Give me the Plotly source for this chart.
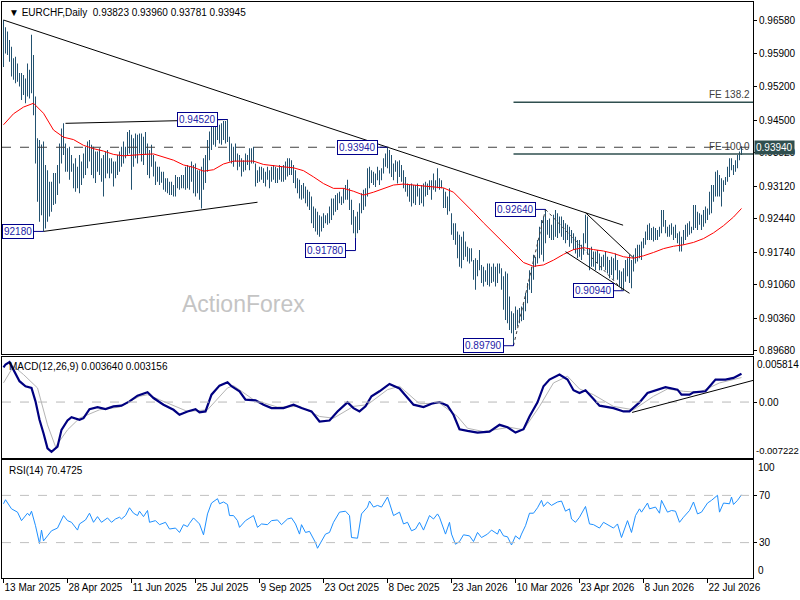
import plotly.graph_objects as go
from plotly.subplots import make_subplots

# ---- daily bars (high / low), one value per trading day ----
highs = [
    0.9660, 0.9645, 0.9636, 0.9618, 0.9604, 0.9580, 0.9583, 0.9569, 0.9549, 0.9549,
    0.9545, 0.9538, 0.9569, 0.9556, 0.9629, 0.9587, 0.9500, 0.9413, 0.9409, 0.9400,
    0.9406, 0.9357, 0.9346, 0.9322, 0.9322, 0.9340, 0.9340, 0.9357, 0.9402, 0.9433,
    0.9444, 0.9402, 0.9392, 0.9395, 0.9378, 0.9360, 0.9371, 0.9353, 0.9378, 0.9364,
    0.9381, 0.9395, 0.9406, 0.9409, 0.9399, 0.9395, 0.9385, 0.9385, 0.9392, 0.9371,
    0.9378, 0.9385, 0.9388, 0.9371, 0.9371, 0.9364, 0.9364, 0.9378, 0.9385, 0.9395,
    0.9406, 0.9395, 0.9426, 0.9430, 0.9420, 0.9413, 0.9423, 0.9420, 0.9423, 0.9423,
    0.9416, 0.9426, 0.9402, 0.9388, 0.9399, 0.9378, 0.9364, 0.9353, 0.9353, 0.9343,
    0.9343, 0.9329, 0.9329, 0.9322, 0.9322, 0.9315, 0.9336, 0.9332, 0.9332, 0.9336,
    0.9336, 0.9353, 0.9357, 0.9353, 0.9364, 0.9357, 0.9360, 0.9346, 0.9346, 0.9353,
    0.9371, 0.9378, 0.9409, 0.9427, 0.9441, 0.9448, 0.9446, 0.9448, 0.9441, 0.9444,
    0.9449, 0.9449, 0.9452, 0.9416, 0.9402, 0.9395, 0.9402, 0.9381, 0.9378, 0.9371,
    0.9367, 0.9381, 0.9378, 0.9392, 0.9392, 0.9395, 0.9360, 0.9346, 0.9353, 0.9353,
    0.9350, 0.9343, 0.9353, 0.9346, 0.9353, 0.9357, 0.9353, 0.9350, 0.9357, 0.9353,
    0.9357, 0.9364, 0.9371, 0.9371, 0.9367, 0.9357, 0.9346, 0.9329, 0.9326, 0.9315,
    0.9319, 0.9312, 0.9305, 0.9301, 0.9291, 0.9270, 0.9266, 0.9259, 0.9252, 0.9249,
    0.9256, 0.9252, 0.9256, 0.9270, 0.9287, 0.9287, 0.9294, 0.9298, 0.9301, 0.9291,
    0.9308, 0.9315, 0.9326, 0.9308, 0.9284, 0.9263, 0.9249, 0.9259, 0.9277, 0.9298,
    0.9305, 0.9308, 0.9350, 0.9353, 0.9346, 0.9343, 0.9339, 0.9353, 0.9346, 0.9350,
    0.9371, 0.9381, 0.9394, 0.9388, 0.9378, 0.9360, 0.9367, 0.9364, 0.9367, 0.9357,
    0.9346, 0.9332, 0.9318, 0.9315, 0.9318, 0.9315, 0.9315, 0.9318, 0.9308, 0.9315,
    0.9318, 0.9322, 0.9318, 0.9325, 0.9325, 0.9339, 0.9325, 0.9350, 0.9329, 0.9325,
    0.9308, 0.9301, 0.9291, 0.9308, 0.9256, 0.9235, 0.9235, 0.9218, 0.9211, 0.9207,
    0.9218, 0.9197, 0.9186, 0.9183, 0.9183, 0.9158, 0.9162, 0.9158, 0.9179, 0.9148,
    0.9144, 0.9137, 0.9151, 0.9151, 0.9144, 0.9151, 0.9144, 0.9151, 0.9151, 0.9141,
    0.9124, 0.9134, 0.9130, 0.9082, 0.9051, 0.9047, 0.9061, 0.9054, 0.9058, 0.9061,
    0.9068, 0.9089, 0.9110, 0.9137, 0.9144, 0.9169, 0.9165, 0.9200, 0.9228, 0.9242,
    0.9249, 0.9264, 0.9242, 0.9245, 0.9232, 0.9253, 0.9263, 0.9256, 0.9249, 0.9249,
    0.9242, 0.9235, 0.9232, 0.9228, 0.9221, 0.9214, 0.9207, 0.9200, 0.9200, 0.9190,
    0.9214, 0.9253, 0.9249, 0.9183, 0.9186, 0.9176, 0.9176, 0.9179, 0.9172, 0.9165,
    0.9169, 0.9176, 0.9165, 0.9158, 0.9165, 0.9162, 0.9172, 0.9158, 0.9137, 0.9134,
    0.9141, 0.9158, 0.9162, 0.9169, 0.9158, 0.9169, 0.9183, 0.9190, 0.9190, 0.9197,
    0.9204, 0.9218, 0.9232, 0.9235, 0.9225, 0.9228, 0.9225, 0.9221, 0.9228, 0.9263,
    0.9263, 0.9242, 0.9228, 0.9232, 0.9235, 0.9228, 0.9232, 0.9214, 0.9218, 0.9207,
    0.9221, 0.9232, 0.9235, 0.9239, 0.9228, 0.9273, 0.9273, 0.9259, 0.9256, 0.9253,
    0.9263, 0.9270, 0.9266, 0.9301, 0.9315, 0.9315, 0.9343, 0.9346, 0.9336, 0.9329,
    0.9325, 0.9332, 0.9353, 0.9371, 0.9371, 0.9357, 0.9367, 0.9378, 0.9385, 0.9396,
]
lows = [
    0.9562, 0.9590, 0.9587, 0.9573, 0.9542, 0.9535, 0.9528, 0.9531, 0.9521, 0.9493,
    0.9503, 0.9486, 0.9500, 0.9496, 0.9507, 0.9461, 0.9360, 0.9280, 0.9238, 0.9252,
    0.9218, 0.9224, 0.9238, 0.9249, 0.9259, 0.9273, 0.9276, 0.9294, 0.9318, 0.9360,
    0.9378, 0.9343, 0.9343, 0.9326, 0.9343, 0.9308, 0.9301, 0.9308, 0.9298, 0.9315,
    0.9329, 0.9336, 0.9350, 0.9364, 0.9336, 0.9329, 0.9319, 0.9343, 0.9336, 0.9322,
    0.9291, 0.9329, 0.9339, 0.9329, 0.9339, 0.9312, 0.9329, 0.9336, 0.9343, 0.9353,
    0.9360, 0.9371, 0.9378, 0.9381, 0.9305, 0.9353, 0.9371, 0.9360, 0.9381, 0.9364,
    0.9357, 0.9378, 0.9336, 0.9329, 0.9353, 0.9333, 0.9315, 0.9322, 0.9315, 0.9320,
    0.9305, 0.9301, 0.9298, 0.9294, 0.9294, 0.9291, 0.9291, 0.9308, 0.9305, 0.9308,
    0.9308, 0.9305, 0.9308, 0.9305, 0.9322, 0.9298, 0.9291, 0.9298, 0.9284, 0.9266,
    0.9305, 0.9319, 0.9343, 0.9367, 0.9388, 0.9399, 0.9395, 0.9409, 0.9402, 0.9399,
    0.9409, 0.9402, 0.9405, 0.9364, 0.9360, 0.9353, 0.9364, 0.9346, 0.9353, 0.9333,
    0.9343, 0.9346, 0.9357, 0.9346, 0.9360, 0.9360, 0.9312, 0.9319, 0.9322, 0.9326,
    0.9319, 0.9312, 0.9326, 0.9308, 0.9322, 0.9326, 0.9319, 0.9319, 0.9326, 0.9322,
    0.9322, 0.9326, 0.9333, 0.9336, 0.9336, 0.9319, 0.9308, 0.9298, 0.9287, 0.9284,
    0.9287, 0.9277, 0.9270, 0.9263, 0.9235, 0.9225, 0.9218, 0.9211, 0.9207, 0.9218,
    0.9225, 0.9235, 0.9232, 0.9235, 0.9242, 0.9252, 0.9259, 0.9263, 0.9277, 0.9273,
    0.9277, 0.9284, 0.9284, 0.9263, 0.9232, 0.9214, 0.9205, 0.9214, 0.9221, 0.9256,
    0.9263, 0.9270, 0.9291, 0.9308, 0.9319, 0.9315, 0.9311, 0.9325, 0.9315, 0.9325,
    0.9339, 0.9353, 0.9350, 0.9339, 0.9332, 0.9325, 0.9343, 0.9318, 0.9332, 0.9322,
    0.9308, 0.9301, 0.9291, 0.9280, 0.9270, 0.9277, 0.9273, 0.9291, 0.9273, 0.9277,
    0.9270, 0.9291, 0.9294, 0.9305, 0.9284, 0.9305, 0.9301, 0.9308, 0.9305, 0.9308,
    0.9267, 0.9267, 0.9253, 0.9260, 0.9211, 0.9200, 0.9190, 0.9162, 0.9144, 0.9141,
    0.9158, 0.9165, 0.9155, 0.9151, 0.9155, 0.9117, 0.9096, 0.9124, 0.9137, 0.9110,
    0.9103, 0.9113, 0.9106, 0.9103, 0.9110, 0.9113, 0.9103, 0.9110, 0.9130, 0.9096,
    0.9054, 0.9033, 0.9026, 0.9012, 0.9005, 0.8984, 0.9012, 0.9019, 0.9026, 0.9030,
    0.9033, 0.9051, 0.9068, 0.9096, 0.9089, 0.9117, 0.9144, 0.9151, 0.9162, 0.9169,
    0.9155, 0.9193, 0.9211, 0.9204, 0.9200, 0.9200, 0.9207, 0.9204, 0.9214, 0.9207,
    0.9200, 0.9193, 0.9200, 0.9186, 0.9193, 0.9179, 0.9172, 0.9162, 0.9165, 0.9158,
    0.9169, 0.9193, 0.9169, 0.9137, 0.9144, 0.9144, 0.9137, 0.9151, 0.9137, 0.9137,
    0.9144, 0.9137, 0.9130, 0.9120, 0.9127, 0.9117, 0.9137, 0.9117, 0.9103, 0.9096,
    0.9094, 0.9113, 0.9124, 0.9110, 0.9099, 0.9134, 0.9151, 0.9155, 0.9162, 0.9158,
    0.9183, 0.9190, 0.9200, 0.9200, 0.9200, 0.9197, 0.9200, 0.9200, 0.9207, 0.9214,
    0.9228, 0.9214, 0.9207, 0.9207, 0.9211, 0.9200, 0.9204, 0.9193, 0.9176, 0.9176,
    0.9190, 0.9200, 0.9207, 0.9211, 0.9214, 0.9221, 0.9225, 0.9221, 0.9232, 0.9221,
    0.9228, 0.9235, 0.9242, 0.9253, 0.9256, 0.9280, 0.9291, 0.9291, 0.9291, 0.9270,
    0.9301, 0.9315, 0.9322, 0.9332, 0.9346, 0.9336, 0.9343, 0.9350, 0.9367, 0.9378,
]

# moving average (red), read every 5 bars
ma_idx = list(range(0, 366, 5)) + [369]
ma_val = [
    0.9441, 0.9464, 0.9478, 0.9486, 0.9465, 0.9430, 0.9415, 0.9410, 0.9398, 0.9391,
    0.9386, 0.9379, 0.9376, 0.9378, 0.9379, 0.9380, 0.9374, 0.9367, 0.9357, 0.9352,
    0.9344, 0.9347, 0.9359, 0.9365, 0.9365, 0.9365, 0.9358, 0.9355, 0.9353, 0.9351,
    0.9345, 0.9332, 0.9318, 0.9308, 0.9308, 0.9302, 0.9294, 0.9300, 0.9308, 0.9315,
    0.9317, 0.9315, 0.9312, 0.9310, 0.9309, 0.9300, 0.9280, 0.9258, 0.9236, 0.9215,
    0.9195, 0.9172, 0.9153, 0.9145, 0.9148, 0.9158, 0.9170, 0.9180, 0.9184, 0.9180,
    0.9177, 0.9172, 0.9165, 0.9162, 0.9167, 0.9174, 0.9182, 0.9187, 0.9190, 0.9195,
    0.9203, 0.9215, 0.9230, 0.9248, 0.9266,
]

# MACD(12,26,9) main and signal lines
macd_idx = [0, 1, 3, 5, 8, 11, 14, 16, 18, 20,
            22, 24, 27, 29, 32, 34, 38, 40, 43, 47,
            51, 55, 59, 63, 67, 72, 75, 80, 85, 88,
            92, 96, 98, 101, 104, 108, 112, 114, 118, 121,
            126, 130, 134, 140, 145, 149, 154, 158, 163, 167,
            172, 175, 178, 181, 184, 188, 193, 198, 202, 205,
            210, 214, 218, 222, 225, 228, 232, 237, 243, 248,
            252, 256, 260, 263, 267, 270, 273, 278, 282, 285,
            288, 291, 295, 298, 305, 310, 313, 318, 322, 327,
            331, 337, 339, 343, 345, 351, 356, 361, 365, 369]
macd_val = [0.00446, 0.00485, 0.00515, 0.00420, 0.00269, 0.00204, 0.00182, 0.00009, -0.00229, -0.00403,
            -0.00597, -0.00641, -0.00576, -0.00359, -0.00238, -0.00195, -0.00229, -0.00208, -0.00091, -0.00065,
            -0.00091, -0.00056, -0.00047, 0.00009, 0.00082, 0.00126, 0.00052, -0.00034, -0.00100, -0.00164,
            -0.00121, -0.00091, -0.00134, -0.00121, 0.00095, 0.00212, 0.00256, 0.00204, 0.00139, 0.00030,
            0.00022, -0.00034, -0.00078, -0.00078, -0.00034, -0.00078, -0.00121, -0.00251, -0.00238, -0.00121,
            -0.00004, -0.00078, -0.00121, -0.00056, 0.00074, 0.00139, 0.00234, 0.00175, 0.00052, -0.00034,
            -0.00065, -0.00022, 0.00000, -0.00047, -0.00164, -0.00351, -0.00372, -0.00394, -0.00381, -0.00294,
            -0.00325, -0.00394, -0.00351, -0.00186, -0.00004, 0.00204, 0.00290, 0.00355, 0.00290, 0.00152,
            0.00117, 0.00152, 0.00039, -0.00047, -0.00078, -0.00121, -0.00121, -0.00004, 0.00117, 0.00160,
            0.00191, 0.00160, 0.00095, 0.00095, 0.00126, 0.00139, 0.00290, 0.00290, 0.00312, 0.00364]
sig_idx = [0, 5, 10, 17, 22, 26, 32, 38, 48, 58, 68,
           72, 78, 92, 102, 112, 115, 125, 137, 148, 158,
           165, 175, 182, 192, 198, 208, 218, 227, 232, 240,
           253, 260, 268, 275, 282, 288, 295, 305, 315, 325,
           332, 340, 348, 358, 369]
sig_val = [0.00247, 0.00463, 0.00355, 0.00182, -0.00294, -0.00576, -0.00359, -0.00208, -0.00100, -0.00065, 0.00074,
           0.00095, 0.00030, -0.00121, -0.00100, 0.00182, 0.00212, 0.00030, -0.00065, -0.00056, -0.00186,
           -0.00208, -0.00056, -0.00034, 0.00160, 0.00204, -0.00022, -0.00013, -0.00186, -0.00338, -0.00381,
           -0.00325, -0.00359, -0.00056, 0.00247, 0.00333, 0.00169, 0.00095, -0.00056, -0.00100, 0.00074,
           0.00169, 0.00139, 0.00126, 0.00247, 0.00316]

# RSI(14)
rsi_idx = [0, 1, 4, 7, 9, 12, 13, 14, 16, 18, 19, 20, 22, 24, 27, 28, 30, 32, 34, 37,
           38, 41, 43, 45, 47, 49, 52, 54, 56, 58, 59, 61, 63, 65, 67, 68, 70, 72, 73, 76,
           78, 81, 83, 86, 88, 90, 92, 93, 95, 98, 100, 102, 104, 107, 108, 110, 112, 113, 115, 117,
           118, 121, 123, 125, 127, 129, 132, 134, 137, 139, 142, 144, 146, 148, 149, 151, 153, 156, 157, 159,
           161, 163, 165, 168, 171, 173, 174, 177, 179, 182, 183, 185, 187, 189, 192, 193, 195, 198,
           200, 202, 204, 206, 208, 210, 213, 215, 217, 218, 221, 223, 224, 226, 228, 230, 233, 235, 237, 239,
           242, 244, 247, 248, 250, 252, 254, 256, 258, 259, 261, 263, 265, 267, 269, 270, 272, 274, 277, 279,
           281, 283, 284, 286, 288, 291, 293, 295, 298, 300, 303, 305, 307, 309, 312, 314, 316, 318, 319, 322,
           323, 326, 328, 329, 332, 334, 336, 338, 340, 343, 345, 347, 349, 352, 354, 357, 358, 360, 363, 364,
           365, 367, 369]
rsi_val = [62.9, 66.3, 58.6, 55.8, 48.6, 54.9, 52.9, 56.6, 44.3, 29.2, 40.6, 31.4, 35.7, 40.0, 42.3, 45.8, 52.9, 48.6, 47.2, 40.6,
           45.8, 49.2, 54.9, 47.2, 52.0, 47.2, 50.9, 47.2, 50.0, 51.5, 50.0, 52.9, 59.5, 54.9, 52.9, 56.6, 52.0, 57.2, 47.2, 48.6,
           45.2, 47.2, 41.5, 42.3, 38.6, 45.2, 43.5, 46.3, 50.9, 45.8, 36.6, 54.3, 63.5, 67.2, 62.9, 64.4, 62.3, 52.9, 52.9, 48.6,
           42.9, 48.6, 50.9, 52.9, 42.9, 45.8, 45.2, 48.6, 49.2, 45.2, 50.0, 50.9, 45.8, 37.2, 45.2, 38.6, 39.5, 30.0, 25.2, 30.9,
           37.2, 38.6, 47.2, 55.8, 56.6, 52.9, 34.3, 33.7, 54.3, 60.1, 65.2, 60.1, 61.5, 60.1, 68.6, 63.5, 52.9, 55.8,
           45.8, 47.2, 40.0, 41.5, 47.2, 40.6, 52.9, 50.0, 54.3, 51.5, 37.2, 47.2, 37.2, 28.6, 30.9, 36.6, 35.7, 30.9, 38.6, 34.3,
           37.2, 40.6, 37.2, 41.5, 35.7, 34.9, 28.0, 35.7, 32.9, 37.2, 44.3, 54.9, 54.9, 59.5, 65.8, 60.6, 64.4, 61.5, 64.4, 65.2,
           56.6, 58.6, 50.0, 47.2, 51.5, 60.6, 45.8, 45.2, 42.3, 47.2, 44.3, 42.3, 45.8, 34.3, 48.6, 38.6, 52.9, 58.6, 55.8, 63.5,
           58.6, 60.1, 54.9, 65.8, 55.8, 57.2, 56.6, 47.2, 51.5, 57.2, 64.4, 54.3, 55.8, 63.5, 65.8, 70.1, 55.8, 63.5, 62.9, 68.6,
           62.3, 65.8, 70.5]

# axis ticks
tick_idx = [0, 32, 64, 96, 128, 160, 192, 224, 256, 288, 320, 352]
tick_labels = ["13 Mar 2025", "28 Apr 2025", "11 Jun 2025", "25 Jul 2025", "9 Sep 2025", "23 Oct 2025",
               "8 Dec 2025", "23 Jan 2026", "10 Mar 2026", "23 Apr 2026", "8 Jun 2026", "22 Jul 2026"]
price_ticks = [0.96580, 0.95900, 0.95200, 0.94500, 0.93820, 0.93120, 0.92440, 0.91740, 0.91060, 0.90360, 0.89680]

# swing labels drawn on the chart
label_text = ["92180", "0.94520", "0.93940", "0.91780", "0.89790", "0.92640", "0.90940"]
label_value = [0.9218, 0.9452, 0.9394, 0.9178, 0.8979, 0.9264, 0.9094]
label_bar = [20, 112, 192, 176, 255, 271, 310]
label_at_high = [False, True, True, False, False, True, False]

# trend lines: (bar, price) -> (bar, price)
trend_lines = [
    ((0, 0.9660), (309.8, 0.9231)),
    ((31, 0.9444), (112, 0.9452)),
    ((20, 0.9218), (127, 0.9279)),
    ((291, 0.92572), (314.7, 0.91639)),
    ((281, 0.91756), (313, 0.90886)),
]
fe_legs = [((255, 0.8979), (271, 0.9264)), ((271, 0.9264), (310, 0.9094))]
fe_names = ["FE 138.2", "FE 100.0"]
fe_levels = [0.94880, 0.93799]
fe_start = 255
hline_price = 0.9394
macd_trend = ((314.3, -0.00134), (375.2, 0.00282))

FONT = "Liberation Sans, Arial, sans-serif"
BAR_COLOR = "#235270"
LABEL_BLUE = "#00008b"

x = list(range(len(highs)))
# 375.5 bars over the 751 px plot width -> exactly 2 px per bar, bars land on whole pixels
x_range = [-0.75, 374.75]

fig = make_subplots(rows=3, cols=1, shared_xaxes=True, vertical_spacing=0.005)

fig.add_trace(go.Bar(x=x, y=[h - l for h, l in zip(highs, lows)], base=lows, width=0.5,
                     marker=dict(color=BAR_COLOR, line=dict(width=0))), row=1, col=1)
fig.add_trace(go.Scatter(x=ma_idx, y=ma_val, mode="lines", line=dict(color="#ff0000", width=1)), row=1, col=1)

fig.add_trace(go.Scatter(x=sig_idx, y=sig_val, mode="lines", line=dict(color="#b4b4b4", width=1)), row=2, col=1)
fig.add_trace(go.Scatter(x=macd_idx, y=macd_val, mode="lines", line=dict(color="#000080", width=2.2)), row=2, col=1)

fig.add_trace(go.Scatter(x=rsi_idx, y=rsi_val, mode="lines", line=dict(color="#1e90ff", width=1)), row=3, col=1)

shapes = []


def seg(p0, p1, xr="x", yr="y", color="black", width=1, dash="solid"):
    shapes.append(dict(type="line", xref=xr, yref=yr, x0=p0[0], y0=p0[1], x1=p1[0], y1=p1[1],
                       line=dict(color=color, width=width, dash=dash)))


def hline(y, xr, yr, color, dash, width=1):
    shapes.append(dict(type="line", xref=xr + " domain", yref=yr, x0=0, x1=1, y0=y, y1=y,
                       line=dict(color=color, width=width, dash=dash)))


for a, b in trend_lines:
    seg(a, b)
for a, b in fe_legs:
    seg(a, b, color="#404040", dash="dot")
for lvl in fe_levels:
    seg((fe_start, lvl), (x_range[1], lvl), color="#2f4f4f", width=1.5)
hline(hline_price, "x", "y", "#404040", "dash")
hline(0, "x2", "y2", "#b8b8b8", "dash")
hline(70, "x3", "y3", "#c0c0c0", "dash")
hline(30, "x3", "y3", "#c0c0c0", "dash")
seg(macd_trend[0], macd_trend[1], "x2", "y2")

annotations = []
for txt, val, b, hi in zip(label_text, label_value, label_bar, label_at_high):
    tip = highs[b] if hi else lows[b]
    seg((b - 5, val), (b, val), color=LABEL_BLUE)
    seg((b, val), (b, tip), color=LABEL_BLUE)
    annotations.append(dict(x=b - 5, y=val, xref="x", yref="y", text=txt, showarrow=False,
                            xanchor="right", yanchor="middle", bgcolor="white",
                            bordercolor=LABEL_BLUE, borderwidth=1, borderpad=1,
                            font=dict(family=FONT, size=10, color="#2323a8")))

for name, lvl in zip(fe_names, fe_levels):
    annotations.append(dict(x=1, y=lvl, xref="x domain", yref="y", text=name, showarrow=False,
                            xanchor="right", yanchor="bottom", xshift=-1,
                            font=dict(family=FONT, size=10, color="#404040")))

annotations += [
    dict(x=0, y=1, xref="paper", yref="paper", xanchor="left", yanchor="top", xshift=5, yshift=-3,
         showarrow=False, text="▼ EURCHF,Daily  0.93823 0.93960 0.93781 0.93945",
         font=dict(family=FONT, size=10, color="black")),
    dict(x=0, y=1, xref="paper", yref="y2 domain", xanchor="left", yanchor="top", xshift=5, yshift=-2,
         showarrow=False, text="MACD(12,26,9) 0.003640 0.003156",
         font=dict(family=FONT, size=10, color="black")),
    dict(x=0, y=1, xref="paper", yref="y3 domain", xanchor="left", yanchor="top", xshift=5, yshift=-3,
         showarrow=False, text="RSI(14) 70.4725",
         font=dict(family=FONT, size=10, color="black")),
    dict(x=120, y=0.9066, xref="x", yref="y", showarrow=False, text="ActionForex",
         font=dict(family=FONT, size=23, color="#c4c4c4")),
    dict(x=1, y=hline_price, xref="paper", yref="y", xanchor="left", xshift=1, showarrow=False,
         text="0.93940", bgcolor="#2f4f4f", borderpad=1,
         font=dict(family=FONT, size=10, color="white")),
    dict(x=1, y=0.005814, xref="paper", yref="y2", xanchor="left", yanchor="top", xshift=2,
         showarrow=False, text="0.005814", font=dict(family=FONT, size=10, color="black")),
    dict(x=1, y=-0.007222, xref="paper", yref="y2", xanchor="left", yanchor="bottom", xshift=1,
         showarrow=False, text="-0.007222", font=dict(family=FONT, size=9.5, color="black")),
    dict(x=1, y=100, xref="paper", yref="y3", xanchor="left", yanchor="top", xshift=3,
         showarrow=False, text="100", font=dict(family=FONT, size=10, color="black")),
    dict(x=1, y=0, xref="paper", yref="y3", xanchor="left", yanchor="bottom", xshift=3,
         showarrow=False, text="0", font=dict(family=FONT, size=10, color="black")),
]

axis_common = dict(showline=True, mirror=True, linecolor="black", linewidth=1,
                   showgrid=False, zeroline=False, automargin=False)

fig.update_layout(
    width=800, height=600,
    margin=dict(l=2, r=47, t=2, b=22),
    plot_bgcolor="white", paper_bgcolor="white",
    showlegend=False,
    font=dict(family=FONT, size=10, color="black"),
    shapes=shapes,
    annotations=annotations,
    xaxis=dict(range=x_range, showticklabels=False, ticks="", **axis_common),
    xaxis2=dict(range=x_range, showticklabels=False, ticks="", **axis_common),
    xaxis3=dict(range=x_range, tickvals=tick_idx, ticktext=tick_labels, ticks="outside",
                ticklen=4, tickcolor="black", tickangle=0, ticklabelposition="outside right",
                **axis_common),
    yaxis=dict(domain=[0.3889, 1.0], range=[0.89617, 0.96977], side="right",
               tickvals=price_ticks, ticktext=[f"{v:.5f}" for v in price_ticks],
               ticks="outside", ticklen=3, tickcolor="black", **axis_common),
    yaxis2=dict(domain=[0.2083, 0.3837], range=[-0.007222, 0.005814], side="right",
                tickvals=[0], ticktext=["0.00"], ticks="outside", ticklen=3, tickcolor="black",
                **axis_common),
    yaxis3=dict(domain=[0, 0.2049], range=[0, 100], side="right",
                tickvals=[70, 30], ticktext=["70", "30"], ticks="outside", ticklen=3,
                tickcolor="black", **axis_common),
)

# the page body has a default 8px margin; drop it so the 800x600 figure fills the window
fig.write_html("out.html", config={"displayModeBar": False},
               post_script="document.body.style.margin='0';")
